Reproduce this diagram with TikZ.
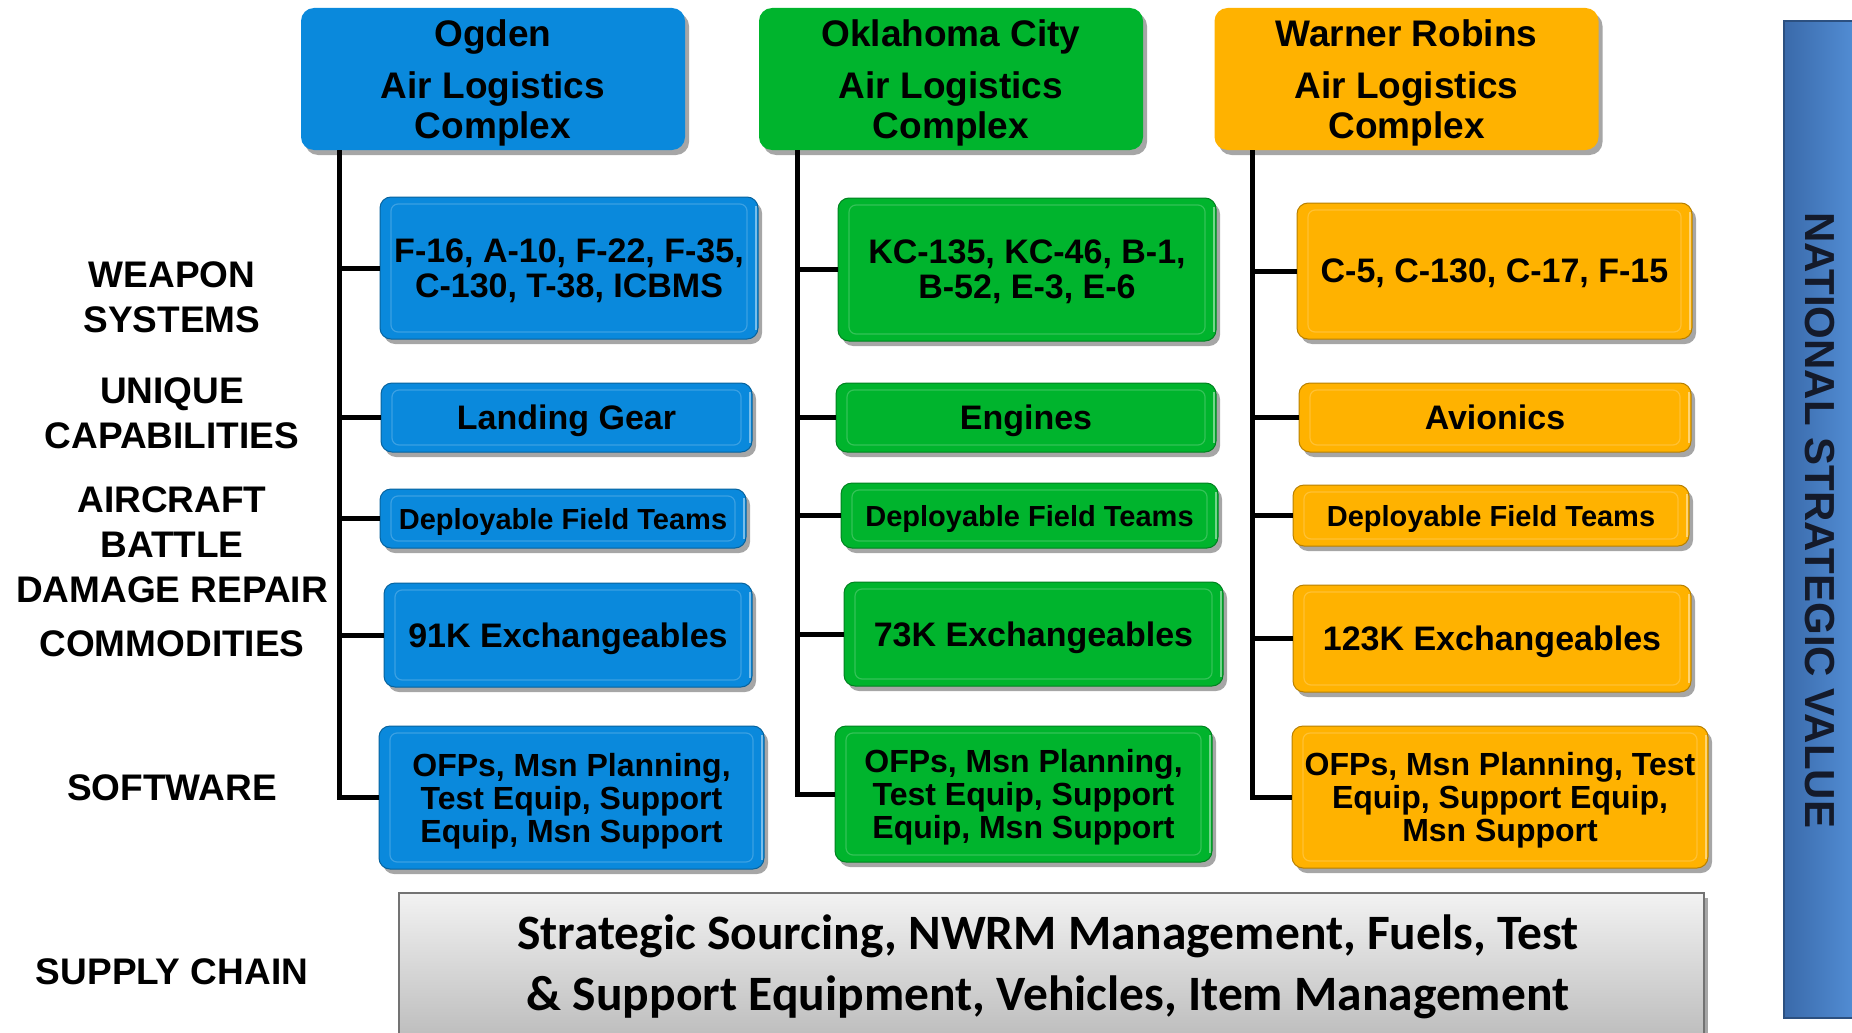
\documentclass[tikz,border=0pt]{standalone}
\usepackage{fontspec}
\setmainfont{Liberation Sans}
\newfontfamily\calib{Carlito}
\usetikzlibrary{shadows}
\definecolor{cblue}{HTML}{0A89DC}
\definecolor{cgreen}{HTML}{00B42D}
\definecolor{corange}{HTML}{FFB200}
\definecolor{barL}{HTML}{3A6AAA}
\definecolor{barR}{HTML}{5592DA}
\definecolor{bartext}{HTML}{141A2A}
\tikzset{
  shad/.style={drop shadow={shadow xshift=4pt, shadow yshift=-5pt, opacity=0.35, fill=black}},
  hdr/.style={rectangle, rounded corners=13pt, fill=#1, shad, inner sep=0pt, outer sep=0pt,
    minimum width=384pt, minimum height=142pt, align=center,
    font=\bfseries\fontsize{37}{40}\selectfont},
  bevel/.style={path picture={
    \draw[white, opacity=0.2, line width=1.2pt, rounded corners=7pt]
      ([shift={(11pt,-7pt)}]path picture bounding box.north west) rectangle
      ([shift={(-11pt,7pt)}]path picture bounding box.south east);
    \draw[white, opacity=0.45, line width=2pt]
      ([shift={(-2.5pt,-9pt)}]path picture bounding box.north east) --
      ([shift={(-2.5pt,9pt)}]path picture bounding box.south east);
  }},
  cbox/.style={rectangle, rounded corners=11pt, fill=#1, draw=#1!72!black, line width=1pt,
    shad, bevel, inner sep=0pt, outer sep=0pt, align=center, text depth=0pt,
    font=\bfseries\fontsize{34}{35}\selectfont},
  fsmall/.style={font=\bfseries\fontsize{29}{30}\selectfont},
  fsoft/.style={font=\bfseries\fontsize{32}{33}\selectfont},
  lbl/.style={align=center, inner sep=0pt, font=\bfseries\fontsize{37}{45}\selectfont},
  conn/.style={line width=5pt, line join=miter, draw=black},
}
\newcommand\hstrut{\rule{0pt}{34pt}}
\begin{document}
\begin{tikzpicture}[x=1pt,y=-1pt]
\useasboundingbox[fill=white] (0,0) rectangle (1852,1033);

% right bar
\node[rectangle, inner sep=0pt, minimum width=80pt, minimum height=997pt,
  left color=barL, right color=barR, draw=barL!75!black, line width=1.5pt] (bar) at (1824,519.5) {};
\node[rotate=-90, inner sep=0pt, text=bartext, font=\bfseries\fontsize{42}{42}\selectfont]
  (nsv) at (1820,520) {NATIONAL STRATEGIC VALUE};

% supply chain box
\node[rectangle, inner sep=0pt, minimum width=1305pt, minimum height=152pt,
  top color=black!5, bottom color=black!27, draw=black!55, line width=1.5pt, shad] (sc) at (1051.5,969) {};
\node[align=center, inner sep=0pt, font=\calib\bfseries\fontsize{49.5}{61}\selectfont]
  (sct) at (1048,967) {Strategic Sourcing, NWRM Management, Fuels, Test\\\& Support Equipment, Vehicles, Item Management};

% headers
\node[hdr=cblue] (A) at (493,79) {\hstrut Ogden\\[12pt]Air Logistics\\Complex};
\node[hdr=cgreen] (B) at (951,79) {\hstrut Oklahoma City\\[12pt]Air Logistics\\Complex};
\node[hdr=corange] (C) at (1406.5,79) {\hstrut Warner Robins\\[12pt]Air Logistics\\Complex};

% Ogden column
\node[cbox=cblue, minimum width=378pt, minimum height=142pt] (a1) at (569,268) {F-16, A-10, F-22, F-35,\\C-130, T-38, ICBMS};
\node[cbox=cblue, minimum width=371pt, minimum height=69pt] (a2) at (566.5,417.5) {Landing Gear};
\node[cbox=cblue, fsmall, minimum width=366pt, minimum height=59pt] (a3) at (563,518.5) {Deployable Field Teams};
\node[cbox=cblue, minimum width=368pt, minimum height=104pt] (a4) at (568,635) {91K Exchangeables};
\node[cbox=cblue, fsoft, minimum width=385pt, minimum height=143pt] (a5) at (571.5,797.5) {OFPs, Msn Planning,\\Test Equip, Support\\Equip, Msn Support};

% Oklahoma column
\node[cbox=cgreen, minimum width=378pt, minimum height=143pt] (b1) at (1027,269.5) {KC-135, KC-46, B-1,\\B-52, E-3, E-6};
\node[cbox=cgreen, minimum width=380pt, minimum height=69pt] (b2) at (1026,417.5) {Engines};
\node[cbox=cgreen, fsmall, minimum width=377pt, minimum height=65pt] (b3) at (1029.5,515.5) {Deployable Field Teams};
\node[cbox=cgreen, minimum width=379pt, minimum height=104pt] (b4) at (1033.5,634) {73K Exchangeables};
\node[cbox=cgreen, fsoft, minimum width=377pt, minimum height=136pt] (b5) at (1023.5,794) {OFPs, Msn Planning,\\Test Equip, Support\\Equip, Msn Support};

% Warner column
\node[cbox=corange, minimum width=395pt, minimum height=136pt] (c1) at (1494.5,271) {C-5, C-130, C-17, F-15};
\node[cbox=corange, minimum width=392pt, minimum height=69pt] (c2) at (1495,417.5) {Avionics};
\node[cbox=corange, fsmall, minimum width=396pt, minimum height=61pt] (c3) at (1491,515.5) {Deployable Field Teams};
\node[cbox=corange, minimum width=398pt, minimum height=107pt] (c4) at (1492,638.5) {123K Exchangeables};
\node[cbox=corange, fsoft, minimum width=416pt, minimum height=142pt] (c5) at (1500,797) {OFPs, Msn Planning, Test\\Equip, Support Equip,\\Msn Support};

% connectors
\foreach \h/\p in {A/a, B/b, C/c}{
  \foreach \i in {1,...,5}{
    \draw[conn] ([xshift=38pt]\h.south west) |- (\p\i.west);
  }
}

% left labels
\node[lbl] (lw) at (172,297.5) {WEAPON\\SYSTEMS};
\node[lbl] (lu) at (172,413) {UNIQUE\\CAPABILITIES};
\node[lbl] (la) at (172,545) {AIRCRAFT\\BATTLE\\DAMAGE REPAIR};
\node[lbl] (lc) at (172,644) {COMMODITIES};
\node[lbl] (ls) at (172,788) {SOFTWARE};
\node[lbl] (lsc) at (172,972) {SUPPLY CHAIN};
\end{tikzpicture}
\end{document}
